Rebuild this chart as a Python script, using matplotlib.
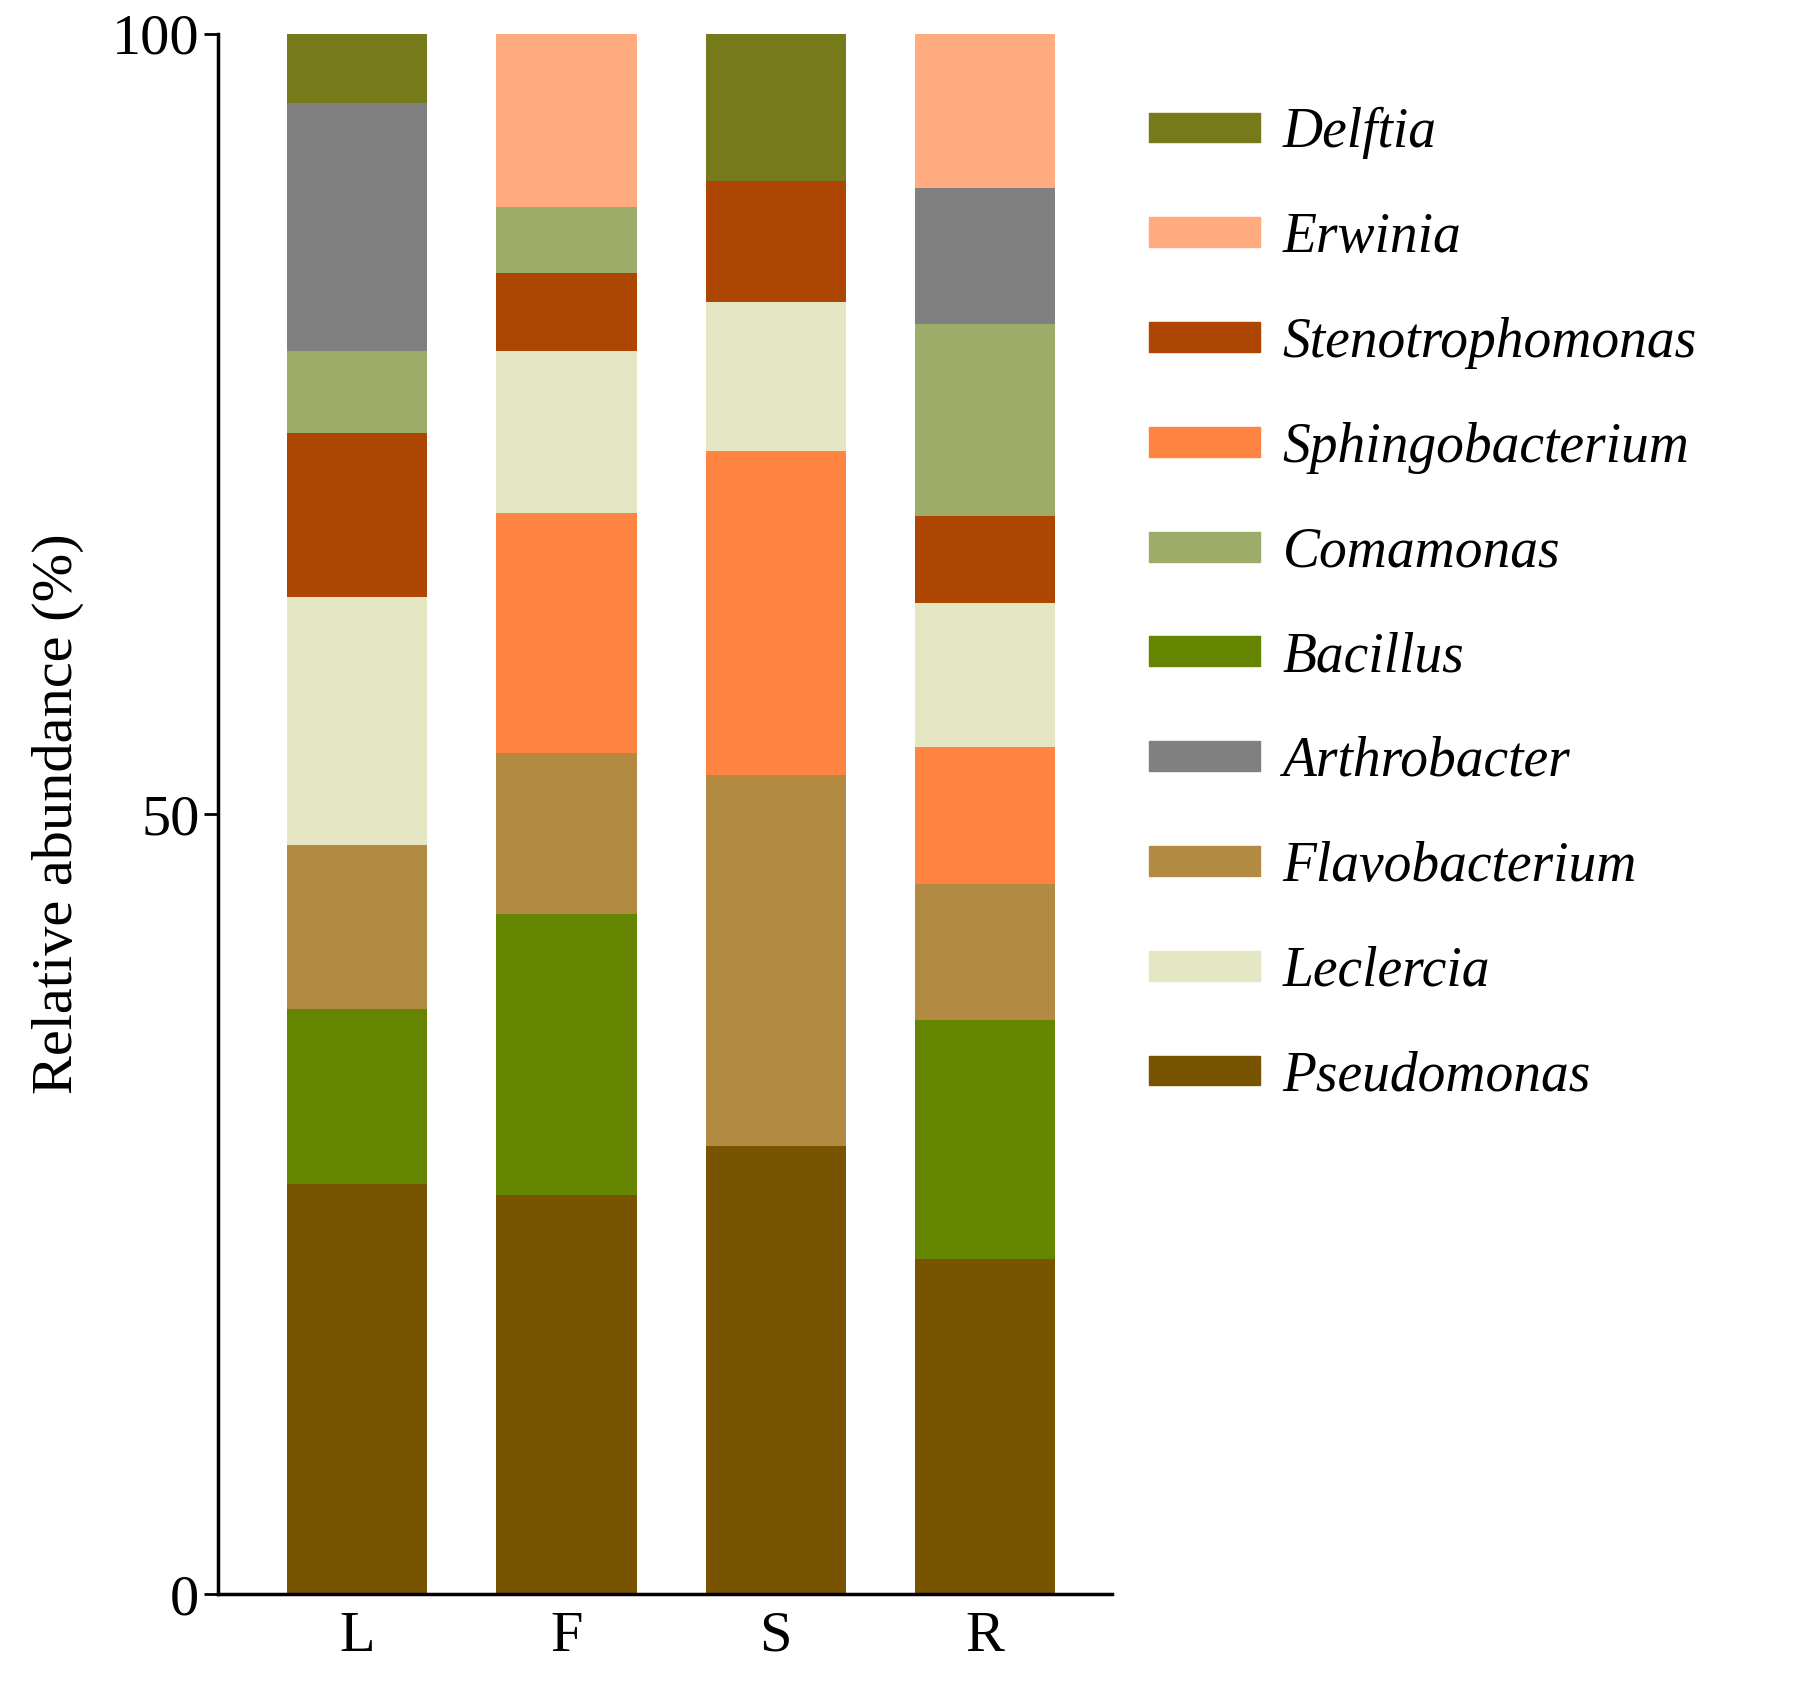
import matplotlib
matplotlib.use("Agg")
import matplotlib.pyplot as plt
import numpy as np
from matplotlib.patches import Patch

plt.rcParams['font.family'] = ['Liberation Serif', 'DejaVu Serif']

samples = ["L", "F", "S", "R"]
stack_order = ["Pseudomonas", "Bacillus", "Flavobacterium", "Sphingobacterium", "Leclercia",
               "Stenotrophomonas", "Comamonas", "Arthrobacter", "Erwinia", "Delftia"]
Pseudomonas = [26.3, 25.6, 28.7, 21.5]
Bacillus = [11.2, 18.0, 0.0, 15.3]
Flavobacterium = [10.5, 10.3, 23.8, 8.7]
Sphingobacterium = [0.0, 15.4, 20.8, 8.8]
Leclercia = [15.9, 10.4, 9.5, 9.2]
Stenotrophomonas = [10.5, 5.0, 7.8, 5.6]
Comamonas = [5.3, 4.2, 0.0, 12.3]
Arthrobacter = [15.9, 0.0, 0.0, 8.7]
Erwinia = [0.0, 11.1, 0.0, 9.9]
Delftia = [4.4, 0.0, 9.4, 0.0]
values = dict(Pseudomonas=Pseudomonas, Bacillus=Bacillus, Flavobacterium=Flavobacterium,
              Sphingobacterium=Sphingobacterium, Leclercia=Leclercia,
              Stenotrophomonas=Stenotrophomonas, Comamonas=Comamonas,
              Arthrobacter=Arthrobacter, Erwinia=Erwinia, Delftia=Delftia)
colors = dict(Delftia="#767a1a", Erwinia="#ffaa7f", Stenotrophomonas="#ad4602",
              Sphingobacterium="#ff8442", Comamonas="#9dac68", Bacillus="#668602",
              Arthrobacter="#808080", Flavobacterium="#b38a42", Leclercia="#e5e6c4",
              Pseudomonas="#785400")
legend_order = ["Delftia", "Erwinia", "Stenotrophomonas", "Sphingobacterium", "Comamonas",
                "Bacillus", "Arthrobacter", "Flavobacterium", "Leclercia", "Pseudomonas"]

fig = plt.figure(figsize=(18.03, 16.96), dpi=100)
ax = fig.add_axes([0.121, 0.060, 0.496, 0.920])
x = np.arange(len(samples))
bottom = np.zeros(len(samples))
for name in stack_order:
    v = np.array(values[name])
    ax.bar(x, v, width=0.67, bottom=bottom, color=colors[name], linewidth=0)
    bottom += v
# normalize top to 100
ax.set_ylim(0, 100)
ax.set_xlim(-0.665, 3.61)
ax.set_xticks(x)
ax.set_xticklabels(samples)
ax.set_yticks([0, 50, 100])
ax.tick_params(axis='y', labelsize=42, length=10, width=2, direction='out')
ax.tick_params(axis='x', labelsize=42, length=0, pad=12)
for s in ["top", "right"]:
    ax.spines[s].set_visible(False)
for s in ["left", "bottom"]:
    ax.spines[s].set_linewidth(2.5)
ax.set_ylabel("Relative abundance (%)", fontsize=42, labelpad=20)

handles = [Patch(color=colors[n]) for n in legend_order]
fig.legend(handles, legend_order, loc="upper left", bbox_to_anchor=(0.625, 0.95),
           frameon=False, prop=dict(size=40, style="italic"), handlelength=2.0,
           handleheight=0.45, labelspacing=0.95, handletextpad=0.4, borderaxespad=0)
fig.savefig("out.png", dpi=100)
